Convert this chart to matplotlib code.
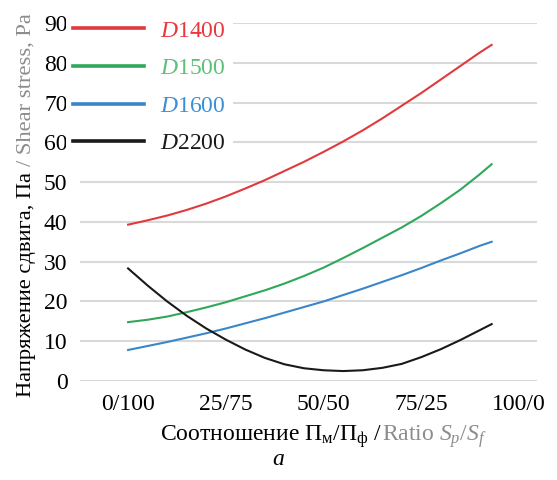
import matplotlib
matplotlib.use("Agg")
import matplotlib.pyplot as plt

plt.rcParams['font.family'] = ['Liberation Serif', 'DejaVu Serif']
plt.rcParams['mathtext.fontset'] = 'custom'
plt.rcParams['mathtext.rm'] = 'Liberation Serif'
plt.rcParams['mathtext.it'] = 'Liberation Serif:italic'

# ratio S_p/S_f (share of first component, %) and shear stress, Pa
x_vals = [0, 5, 10, 15, 20, 25, 30, 35, 40, 45, 50, 55, 60, 65, 70, 75, 80, 85, 90, 93]
d1400 = [39.3, 40.4, 41.6, 43.0, 44.6, 46.4, 48.4, 50.5, 52.8, 55.1,
         57.6, 60.2, 63.0, 66.0, 69.2, 72.4, 75.8, 79.2, 82.6, 84.5]
d1500 = [14.8, 15.4, 16.2, 17.3, 18.5, 19.8, 21.3, 22.8, 24.5, 26.4,
         28.5, 30.9, 33.4, 36.0, 38.6, 41.5, 44.7, 48.1, 52.0, 54.5]
d1600 = [7.8, 8.8, 9.8, 10.9, 12.0, 13.2, 14.5, 15.8, 17.2, 18.6,
         20.0, 21.6, 23.2, 24.9, 26.6, 28.4, 30.3, 32.1, 34.0, 35.0]
d2200 = [28.3, 24.0, 20.0, 16.4, 13.2, 10.4, 7.9, 5.8, 4.2, 3.2,
         2.7, 2.5, 2.7, 3.3, 4.3, 6.0, 8.0, 10.3, 12.8, 14.3]

series_names = ['$D$1400', '$D$1500', '$D$1600', '$D$2200']
line_colors = ['#e03a3e', '#2fa85a', '#3a86c8', '#1a1a1a']
label_colors = ['#e8383d', '#5cc07a', '#3a8fd6', '#1a1a1a']

tick_pos = [0, 25, 50, 75, 100]
tick_labels = ['0/100', '25/75', '50/50', '75/25', '100/0']
y_ticks = list(range(0, 100, 10))

FS = 17
W, H = 557, 480
fig = plt.figure(figsize=(W / 100, H / 100), dpi=100)
ax = fig.add_axes([80 / W, (H - 381) / H, (537 - 80) / W, (381 - 23) / H])

for ys, c, name in zip([d1400, d1500, d1600, d2200], line_colors, series_names):
    ax.plot(x_vals, ys, color=c, lw=1.5, label=name, zorder=3)

ax.set_xlim(-12.3, 104.6)
ax.set_ylim(0, 90)
ax.set_xticks(tick_pos)
ax.set_xticklabels(tick_labels)
ax.set_yticks(y_ticks)
ax.tick_params(length=0, labelsize=FS, colors='black')
ax.tick_params(axis='x', pad=9)
ax.tick_params(axis='y', pad=9)
ax.grid(axis='y', color='#d9d9d9', lw=1.5, zorder=0)
ax.set_axisbelow(True)
for s in ax.spines.values():
    s.set_visible(False)

leg = ax.legend(loc='upper left', bbox_to_anchor=(66 / W, (H - 13) / H),
                bbox_transform=fig.transFigure, fontsize=FS,
                handlelength=3.0, handletextpad=0.7, labelspacing=0.68,
                borderpad=0.3, borderaxespad=0, frameon=True, fancybox=False,
                labelcolor=label_colors)
leg.get_frame().set_facecolor('white')
leg.get_frame().set_edgecolor('none')
leg.get_frame().set_alpha(1)
leg.set_zorder(5)
for ln in leg.get_lines():
    ln.set_linewidth(2.6)

# two-coloured axis labels
fig.canvas.draw()
r = fig.canvas.get_renderer()

t1 = fig.text(160 / W, (H - 441) / H,
              'Соотношение $\\mathrm{П}_{\\mathrm{м}}/\\mathrm{П}_{\\mathrm{ф}}$ / ',
              fontsize=FS, color='black', ha='left', va='baseline')
bb = t1.get_window_extent(r)
fig.text(bb.x1 / W, (H - 441) / H, 'Ratio $S_p/S_f$',
         fontsize=FS, color='#8c8c8c', ha='left', va='baseline')

y1 = fig.text(31 / W, (H - 397) / H, 'Напряжение сдвига, Па ',
              fontsize=16.2, color='black', rotation=90,
              rotation_mode='anchor', ha='left', va='baseline')
bb = y1.get_window_extent(r)
fig.text(31 / W, bb.y1 / H, '/ Shear stress, Pa',
         fontsize=16.2, color='#8c8c8c', rotation=90,
         rotation_mode='anchor', ha='left', va='baseline')

fig.text(278 / W, (H - 465) / H, '$a$', fontsize=FS, ha='center', va='baseline')

fig.savefig('out.png', dpi=100)
